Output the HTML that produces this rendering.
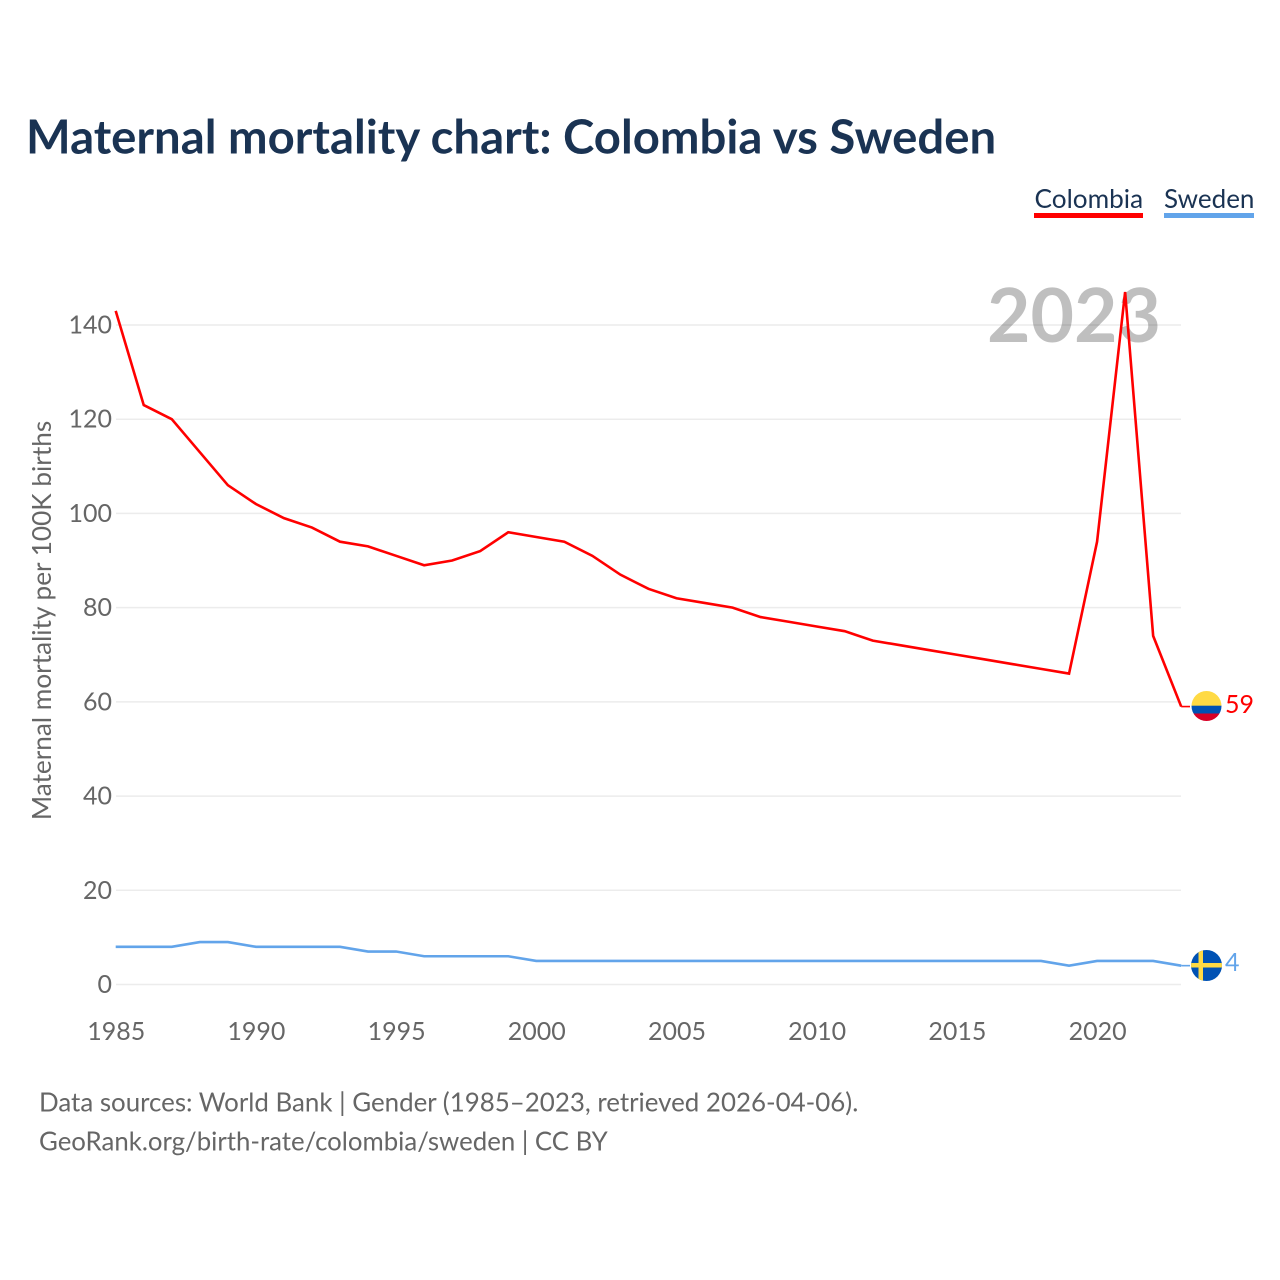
<!DOCTYPE html>
<html lang="en">
<head>
<meta charset="utf-8">
<title>Maternal mortality chart: Colombia vs Sweden</title>
<style>
html,body{margin:0;padding:0;background:#fff;}
body{width:1280px;height:1280px;overflow:hidden;}
svg{display:block;}
text{font-family:"Lato","Carlito","Liberation Sans",sans-serif;}
</style>
</head>
<body>
<svg id="chart" width="1280" height="1280" viewBox="0 0 1280 1280" xmlns="http://www.w3.org/2000/svg">
  <defs>
    <clipPath id="flag-clip-colombia"><circle cx="1206.5" cy="706" r="15"/></clipPath>
    <clipPath id="flag-clip-sweden"><circle cx="1206.5" cy="965.5" r="15.5"/></clipPath>
  </defs>
  <text x="26" y="153.5" font-size="47.3" font-weight="700" fill="#1a3353">Maternal mortality chart: Colombia vs Sweden</text>

  <g>
    <text x="1034.5" y="208" font-size="26.2" fill="#1a3353">Colombia</text>
    <rect x="1034" y="213" width="109" height="5" fill="#ff0000"/>
  </g>
  <g>
    <text x="1164" y="208" font-size="26" fill="#1a3353">Sweden</text>
    <rect x="1164" y="213" width="90" height="5" fill="#62a4ea"/>
  </g>

  <g id="grid"></g>
  <g id="y-ticks"></g>
  <g id="x-ticks"></g>
  <text x="1161" y="342" text-anchor="end" font-size="75" font-weight="700" fill="#000" fill-opacity="0.25">2023</text>
  <text transform="translate(51 620.5) rotate(-90)" text-anchor="middle" font-size="26.2" fill="#666666">Maternal mortality per 100K births</text>
  <g id="series"></g>

  <g clip-path="url(#flag-clip-colombia)">
    <rect x="1191" y="690" width="31" height="16" fill="#ffda44"/>
    <rect x="1191" y="705.7" width="31" height="7.8" fill="#0052b4"/>
    <rect x="1191" y="713.5" width="31" height="8.5" fill="#d80027"/>
  </g>
  <text id="label-colombia" x="1225" y="713" font-size="25" fill="#ff0000">59</text>

  <g clip-path="url(#flag-clip-sweden)">
    <rect x="1190" y="949" width="33" height="33" fill="#0052b4"/>
    <rect x="1198.5" y="949" width="4.5" height="33" fill="#ffda44"/>
    <rect x="1190" y="963" width="33" height="4.5" fill="#ffda44"/>
  </g>
  <text id="label-sweden" x="1225" y="971" font-size="25" fill="#62a4ea">4</text>

  <text x="39" y="1111.5" font-size="25.9" fill="#666666">Data sources: World Bank | Gender (1985–2023, retrieved 2026-04-06).</text>
  <text x="39" y="1150.5" font-size="25.8" fill="#666666">GeoRank.org/birth-rate/colombia/sweden | CC BY</text>
</svg>
<script>
const years = [1985,1986,1987,1988,1989,1990,1991,1992,1993,1994,1995,1996,1997,1998,1999,2000,2001,2002,2003,2004,2005,2006,2007,2008,2009,2010,2011,2012,2013,2014,2015,2016,2017,2018,2019,2020,2021,2022,2023];
const colombiaValues = [143,123,120,113,106,102,99,97,94,93,91,89,90,92,96,95,94,91,87,84,82,81,80,78,77,76,75,73,72,71,70,69,68,67,66,94,147,74,59];
const swedenValues = [8,8,8,9,9,8,8,8,8,7,7,6,6,6,6,5,5,5,5,5,5,5,5,5,5,5,5,5,5,5,5,5,5,5,4,5,5,5,4];
const yTickLabels = [0,20,40,60,80,100,120,140];
const xTickLabels = [1985,1990,1995,2000,2005,2010,2015,2020];

const SVG_NS = 'http://www.w3.org/2000/svg';
const xScale = function (year) { return 115.7 + (year - 1985) * (1181.2 - 115.7) / 38; };
const yScale = function (value) { return 984.5 - value * (984.5 - 325) / 140; };

const gridGroup = document.getElementById('grid');
const yTickGroup = document.getElementById('y-ticks');
const xTickGroup = document.getElementById('x-ticks');
const seriesGroup = document.getElementById('series');

yTickLabels.forEach(function (tick) {
  const line = document.createElementNS(SVG_NS, 'line');
  
  
  line.setAttribute('x1', 116);
  line.setAttribute('x2', 1181);
  line.setAttribute('y1', yScale(tick));
  line.setAttribute('y2', yScale(tick));
  line.setAttribute('stroke', '#ececec');
  line.setAttribute('stroke-width', '1.5');
  gridGroup.appendChild(line);

  const label = document.createElementNS(SVG_NS, 'text');
  
  
  label.setAttribute('x', 112);
  label.setAttribute('y', yScale(tick) + 8.5);
  label.setAttribute('text-anchor', 'end');
  label.setAttribute('font-size', '25');
  label.setAttribute('fill', '#666666');
  label.textContent = String(tick);
  yTickGroup.appendChild(label);
});

xTickLabels.forEach(function (tick) {
  const label = document.createElementNS(SVG_NS, 'text');
  
  
  label.setAttribute('x', xScale(tick) + 0.5);
  label.setAttribute('y', 1040);
  label.setAttribute('text-anchor', 'middle');
  label.setAttribute('font-size', '25');
  label.setAttribute('fill', '#666666');
  label.textContent = String(tick);
  xTickGroup.appendChild(label);
});

function drawSeries(values, color) {
  const lastValue = values[values.length - 1];
  const coords = values.map(function (value, i) {
    return xScale(years[i]).toFixed(2) + ',' + yScale(value).toFixed(2);
  });
  const line = document.createElementNS(SVG_NS, 'polyline');
  
  
  line.setAttribute('points', coords.join(' '));
  line.setAttribute('fill', 'none');
  line.setAttribute('stroke', color);
  line.setAttribute('stroke-width', '2.6');
  line.setAttribute('stroke-linejoin', 'miter');
  seriesGroup.appendChild(line);

  const leader = document.createElementNS(SVG_NS, 'line');
  
  
  leader.setAttribute('x1', xScale(years[years.length - 1]));
  leader.setAttribute('x2', 1190);
  leader.setAttribute('y1', yScale(lastValue));
  leader.setAttribute('y2', yScale(lastValue));
  leader.setAttribute('stroke', color);
  leader.setAttribute('stroke-width', '1.6');
  seriesGroup.appendChild(leader);
}

drawSeries(colombiaValues, '#ff0000');
drawSeries(swedenValues, '#62a4ea');

document.getElementById('label-colombia').textContent = String(colombiaValues[colombiaValues.length - 1]);
document.getElementById('label-sweden').textContent = String(swedenValues[swedenValues.length - 1]);
</script>
</body>
</html>
